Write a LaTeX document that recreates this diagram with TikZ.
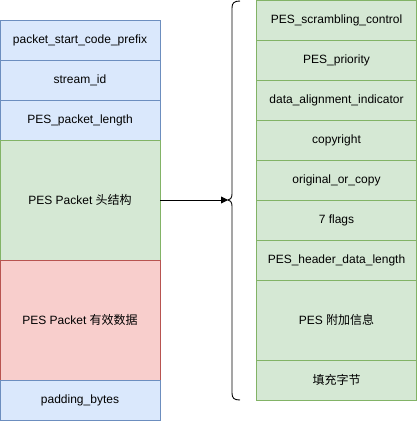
\documentclass[tikz,border=0pt]{standalone}
\usepackage{fontspec}
\setmainfont{Liberation Sans}
\newfontfamily\cjk{Noto Sans CJK SC}
\usetikzlibrary{arrows.meta}
\definecolor{bluefill}{HTML}{DAE8FC}
\definecolor{bluedraw}{HTML}{6C8EBF}
\definecolor{greenfill}{HTML}{D5E8D4}
\definecolor{greendraw}{HTML}{82B366}
\definecolor{redfill}{HTML}{F8CECC}
\definecolor{reddraw}{HTML}{B85450}
\begin{document}
\begin{tikzpicture}[x=1pt,y=-1pt,
  cell/.style={draw, line width=0.8pt, minimum width=160pt, inner sep=0pt, outer sep=0pt, font=\fontsize{12}{14}\selectfont},
  bluecell/.style={cell, fill=bluefill, draw=bluedraw},
  greencell/.style={cell, fill=greenfill, draw=greendraw},
  redcell/.style={cell, fill=redfill, draw=reddraw}]
\useasboundingbox (0,0) rectangle (417,421);
% left column
\node[bluecell, minimum height=40pt] (l1) at (80,40) {packet\_start\_code\_prefix};
\node[bluecell, minimum height=40pt] (l2) at (80,80) {stream\_id};
\node[bluecell, minimum height=40pt] (l3) at (80,120) {PES\_packet\_length};
\node[greencell, minimum height=120pt] (l4) at (80,200) {PES Packet {\cjk 头结构}};
\node[redcell, minimum height=120pt] (l5) at (80,320) {PES Packet {\cjk 有效数据}};
\node[bluecell, minimum height=40pt] (l6) at (80,400) {padding\_bytes};
% right column
\node[greencell, minimum height=40pt] (r1) at (336.5,20) {PES\_scrambling\_control};
\node[greencell, minimum height=40pt] (r2) at (336.5,60) {PES\_priority};
\node[greencell, minimum height=40pt] (r3) at (336.5,100) {data\_alignment\_indicator};
\node[greencell, minimum height=40pt] (r4) at (336.5,140) {copyright};
\node[greencell, minimum height=40pt] (r5) at (336.5,180) {original\_or\_copy};
\node[greencell, minimum height=40pt] (r6) at (336.5,220) {7 flags};
\node[greencell, minimum height=40pt] (r7) at (336.5,260) {PES\_header\_data\_length};
\node[greencell, minimum height=80pt] (r8) at (336.5,320) {PES {\cjk 附加信息}};
\node[greencell, minimum height=40pt] (r9) at (336.5,380) {{\cjk 填充字节}};
% brace
\coordinate (bt) at (228,200);
\draw[line width=0.9pt] (240,1) .. controls (234,1) and (232,3) .. (232,8)
  -- (232,194) .. controls (232,198) and (230,200) .. (bt)
  .. controls (230,200) and (232,202) .. (232,206)
  -- (232,393) .. controls (232,398) and (234,400) .. (240,400);
\draw[line width=0.9pt, -{Triangle[length=7pt,width=7pt]}] (l4.east) -- (bt);
\end{tikzpicture}
\end{document}
